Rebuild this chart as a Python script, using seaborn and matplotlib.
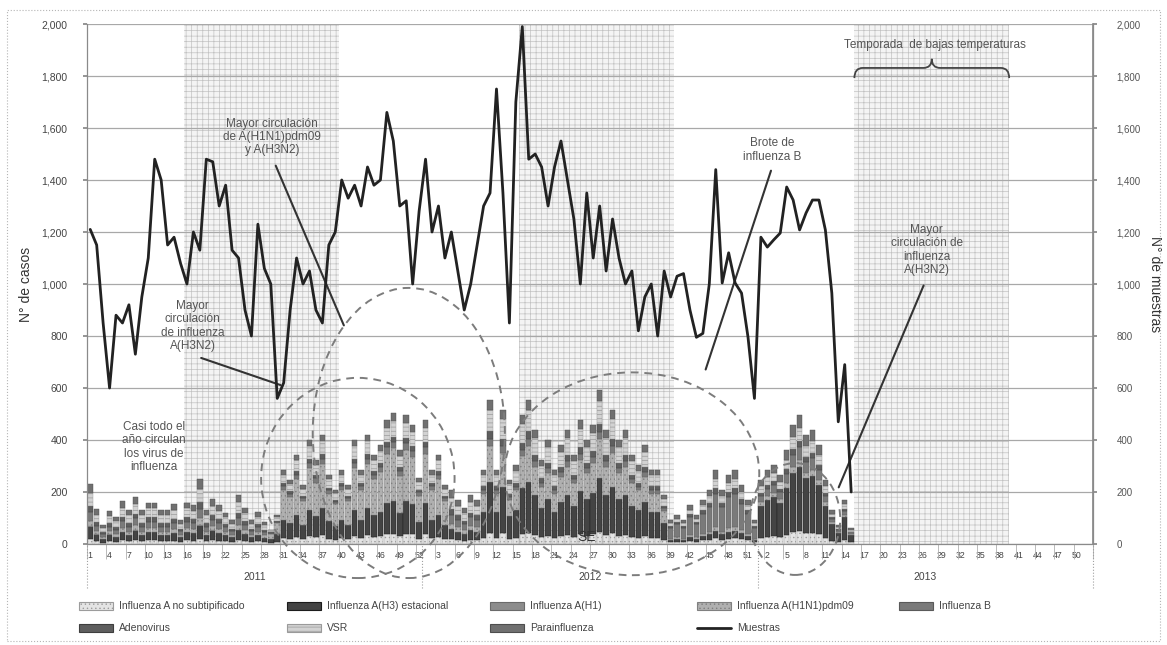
import numpy as np
import matplotlib
matplotlib.use("Agg")
import matplotlib.pyplot as plt
import matplotlib.transforms as mtransforms
from matplotlib.patches import Ellipse, PathPatch, Rectangle
from matplotlib.path import Path
from matplotlib.lines import Line2D
from matplotlib.ticker import FuncFormatter
import seaborn as sns

# ---------------------------------------------------------------- data
years = ["2011", "2012", "2013"]
weeks_per_year = 52

# epidemiological-week labels shown every third week
se_labels = [1, 4, 7, 10, 13, 16, 19, 22, 25, 28, 31, 34, 37, 40, 43, 46, 49, 52,
             3, 6, 9, 12, 15, 18, 21, 24, 27, 30, 33, 36, 39, 42, 45, 48, 51,
             2, 5, 8, 11, 14, 17, 20, 23, 26, 29, 32, 35, 38, 41, 44, 47, 50]

flu_a_nosub = [20, 10, 5, 10, 8, 15, 10, 15, 10, 15, 15, 10, 10, 12, 8, 15, 12, 20, 10, 15, 12, 10, 8, 15, 12, 8, 10, 8,
               4, 9, 23, 20, 27, 18, 32, 26, 34, 21, 17, 23, 18, 32, 23, 34, 27, 30, 38, 40, 29, 40, 37, 20, 38, 23, 27, 18,
               18, 15, 12, 16, 15,
               23, 44, 23, 41, 20, 24, 40, 44, 35, 26, 32, 23, 30, 35, 27, 38, 32, 37, 47, 35, 41, 32, 35, 27, 24, 30, 23, 23, 15,
               7, 9, 7, 12, 9, 14, 17, 23, 17, 21, 23, 18, 14, 7,
               25, 28, 30, 27, 36, 46, 50, 42, 44, 38, 25, 13, 7, 17, 6]
flu_h3 = [45, 25, 15, 25, 20, 30, 25, 35, 25, 30, 30, 25, 25, 30, 18, 30, 30, 50, 25, 35, 30, 25, 18, 38, 28, 18, 25, 17,
          14, 28, 71, 62, 86, 57, 100, 81, 105, 66, 52, 71, 57, 100, 71, 105, 86, 95, 119, 126, 90, 124, 115, 64, 119, 71, 86, 57,
          40, 33, 27, 36, 33,
          100, 194, 100, 180, 86, 106, 174, 194, 153, 113, 140, 100, 133, 153, 120, 167, 140, 160, 207, 153, 180, 140, 153, 120, 106, 133, 100, 100, 66,
          9, 11, 9, 15, 11, 17, 21, 28, 21, 27, 28, 23, 17, 9,
          123, 143, 152, 132, 181, 229, 248, 210, 219, 190, 123, 65, 37, 85, 30]
flu_h1 = [5, 3, 0, 2, 0, 3, 0, 4, 0, 2, 2, 0, 0, 2, 0, 2, 0, 4, 0, 2, 0, 0, 0, 2, 0, 0, 0, 0,
          0, 0, 0, 0, 0, 0, 0, 0, 0, 0, 0, 0, 0, 0, 0, 0, 0, 0, 0, 0, 0, 0, 0, 0, 0, 0, 0, 0,
          0, 0, 0, 0, 0,
          0, 0, 0, 0, 0, 0, 0, 0, 0, 0, 0, 0, 0, 0, 0, 0, 0, 0, 0, 0, 0, 0, 0, 0, 0, 0, 0, 0, 0,
          0, 0, 0, 0, 0, 0, 0, 0, 0, 0, 0, 0, 0, 0,
          0, 0, 0, 0, 0, 0, 0, 0, 0, 0, 0, 0, 0, 0, 0]
flu_pdm09 = [20, 12, 8, 12, 10, 15, 12, 18, 12, 15, 15, 12, 12, 15, 9, 15, 15, 25, 12, 17, 15, 12, 9, 18, 14, 9, 12, 8,
             22, 44, 114, 98, 137, 91, 160, 129, 168, 106, 83, 114, 91, 160, 114, 168, 137, 152, 191, 202, 144, 198, 183, 102, 191, 114, 137, 91,
             20, 17, 14, 18, 17,
             71, 139, 71, 129, 62, 76, 124, 139, 110, 81, 100, 71, 95, 110, 86, 119, 100, 115, 148, 110, 129, 100, 110, 86, 76, 95, 71, 71, 47,
             5, 6, 5, 8, 6, 8, 10, 14, 10, 13, 14, 11, 8, 5,
             12, 14, 15, 13, 18, 23, 25, 21, 22, 19, 12, 7, 4, 9, 3]
flu_b = [35, 20, 10, 18, 16, 25, 20, 27, 20, 24, 24, 20, 20, 23, 14, 24, 23, 37, 20, 25, 23, 18, 14, 28, 21, 14, 18, 13,
         3, 5, 14, 12, 17, 11, 20, 16, 21, 13, 10, 14, 11, 20, 14, 21, 17, 19, 24, 25, 18, 25, 23, 13, 24, 14, 17, 11,
         35, 28, 23, 32, 28,
         14, 28, 14, 26, 12, 15, 25, 28, 22, 16, 20, 14, 19, 22, 17, 24, 20, 23, 30, 22, 26, 20, 22, 17, 15, 19, 14, 14, 9,
         41, 50, 41, 68, 50, 77, 94, 128, 94, 119, 128, 102, 77, 41,
         25, 28, 30, 27, 36, 46, 50, 42, 44, 38, 25, 13, 7, 17, 6]
adenovirus = [22, 13, 7, 12, 10, 16, 13, 18, 13, 16, 16, 13, 13, 15, 9, 16, 15, 25, 13, 17, 15, 12, 9, 19, 14, 9, 12, 8,
              2, 4, 11, 10, 14, 9, 16, 13, 17, 11, 8, 11, 9, 16, 11, 17, 14, 15, 19, 20, 14, 20, 18, 10, 19, 11, 14, 9,
              20, 17, 14, 18, 17,
              14, 28, 14, 26, 12, 15, 25, 28, 22, 16, 20, 14, 19, 22, 17, 24, 20, 23, 30, 22, 26, 20, 22, 17, 15, 19, 14, 14, 9,
              7, 9, 7, 12, 9, 14, 17, 23, 17, 21, 23, 18, 14, 7,
              12, 14, 15, 13, 18, 23, 25, 21, 22, 19, 12, 7, 4, 8, 3]
vsr = [50, 30, 16, 28, 24, 35, 30, 38, 30, 35, 35, 30, 30, 33, 20, 35, 33, 52, 30, 37, 33, 26, 20, 40, 30, 20, 28, 19,
       7, 13, 34, 30, 41, 27, 48, 39, 50, 32, 25, 34, 27, 48, 34, 50, 41, 46, 57, 60, 43, 60, 55, 30, 57, 34, 41, 27,
       45, 37, 30, 40, 37,
       43, 83, 43, 77, 37, 46, 74, 83, 66, 48, 60, 43, 57, 66, 51, 72, 60, 69, 89, 66, 77, 60, 66, 51, 46, 57, 43, 43, 28,
       12, 13, 12, 17, 13, 20, 25, 35, 25, 32, 35, 28, 20, 12,
       25, 29, 31, 26, 36, 45, 49, 42, 44, 38, 25, 12, 7, 17, 6]
parainfluenza = [35, 20, 12, 18, 16, 25, 20, 26, 20, 22, 22, 20, 20, 22, 14, 22, 22, 37, 20, 24, 22, 17, 14, 30, 21, 14, 18, 12,
                 3, 7, 18, 14, 20, 14, 24, 19, 25, 16, 13, 18, 14, 24, 18, 25, 20, 23, 29, 31, 22, 29, 27, 15, 29, 18, 20, 14,
                 30, 23, 20, 28, 23,
                 20, 38, 20, 36, 17, 22, 34, 38, 30, 23, 28, 20, 27, 30, 24, 33, 28, 32, 41, 30, 36, 28, 30, 24, 22, 27, 20, 20, 14,
                 11, 12, 11, 18, 12, 20, 24, 34, 24, 32, 34, 27, 20, 11,
                 24, 29, 31, 27, 36, 46, 49, 42, 43, 38, 24, 13, 7, 17, 6]
muestras = [1210, 1150, 850, 600, 880, 850, 920, 730, 950, 1100,
            1480, 1400, 1150, 1180, 1080, 1000, 1200, 1130, 1480, 1470,
            1300, 1380, 1130, 1100, 900, 800, 1230, 1060, 1000, 560,
            620, 900, 1100, 1000, 1050, 900, 850, 1150, 1200, 1400,
            1330, 1380, 1300, 1450, 1380, 1400, 1660, 1550, 1300, 1320,
            1000, 1280, 1480, 1200, 1300, 1100, 1200, 1050, 900, 1000,
            1150, 1300, 1350, 1750, 1350, 850, 1700, 1990, 1480, 1500,
            1450, 1300, 1450, 1550, 1400, 1250, 1000, 1350, 1100, 1300,
            1050, 1250, 1100, 1000, 1050, 820, 950, 1000, 800, 1050,
            950, 1030, 1040, 900, 795, 810, 1000, 1440, 1004, 1120,
            1004, 965, 796, 560, 1180, 1142, 1170, 1196, 1373, 1323,
            1208, 1273, 1323, 1323, 1208, 965, 470, 690, 200]

# low-temperature season, weeks 16-39 of every year
cold_first_week, cold_last_week = 16, 39

series = [
    ("Influenza A no subtipificado", flu_a_nosub, "#e4e4e4", "#9c9c9c", "...."),
    ("Influenza A(H3) estacional", flu_h3, "#444444", "#1c1c1c", None),
    ("Influenza A(H1)", flu_h1, "#8c8c8c", "#6a6a6a", None),
    ("Influenza A(H1N1)pdm09", flu_pdm09, "#b0b0b0", "#808080", "...."),
    ("Influenza B", flu_b, "#7a7a7a", "#5a5a5a", None),
    ("Adenovirus", adenovirus, "#5e5e5e", "#3e3e3e", None),
    ("VSR", vsr, "#d2d2d2", "#9a9a9a", "----"),
    ("Parainfluenza", parainfluenza, "#707070", "#4e4e4e", None),
]
for _, vals, *_ in series:
    assert len(vals) == len(muestras)

# ---------------------------------------------------------------- style
sns.set_theme(style="white")
plt.rcParams["font.family"] = ["Liberation Sans", "DejaVu Sans"]
plt.rcParams["hatch.linewidth"] = 0.5

W, H = 1167, 645
fig = plt.figure(figsize=(W / 100, H / 100), dpi=100)
fig.patch.set_facecolor("white")
ax = fig.add_axes([87 / W, 1 - 544 / H, (1093 - 87) / W, (544 - 24) / H])
n_weeks = weeks_per_year * len(years)
x = np.arange(len(muestras))

ax.set_xlim(-0.5, n_weeks - 0.5)
ax.set_ylim(0, 2000)

# shaded cold seasons with a fine grid texture
for k in range(len(years)):
    ax.axvspan(k * weeks_per_year + cold_first_week - 1.5, k * weeks_per_year + cold_last_week - 0.5,
               facecolor="#f4f4f4", edgecolor="#c2c2c2", hatch="+++", lw=0, zorder=0)

# stacked bars of detected viruses
bottom = np.zeros(len(x))
for label, vals, face, edge, hatch in series:
    v = np.array(vals, dtype=float)
    ax.bar(x, v, bottom=bottom, width=0.85, color=face, edgecolor=edge, linewidth=0.3,
           hatch=hatch, zorder=2)
    bottom += v

ax.yaxis.grid(True, color="#a8a8a8", lw=0.9)
ax.set_axisbelow(True)
ax.set_yticks(np.arange(0, 2001, 200))
thousands = FuncFormatter(lambda v, p: f"{int(v):,}")
ax.yaxis.set_major_formatter(thousands)
ax.tick_params(axis="y", labelsize=7.5, labelcolor="#444", length=3, color="#888", pad=11, left=True)
ax.set_ylabel("N° de casos", fontsize=10, color="#333", labelpad=6)

ax.spines["top"].set_visible(False)
for s in ["left", "bottom", "right"]:
    ax.spines[s].set_color("#8a8a8a")
    ax.spines[s].set_linewidth(0.9)

ax.set_xticks(np.arange(0, n_weeks, 3))
ax.set_xticklabels([str(s) for s in se_labels], fontsize=6.3, color="#444")
ax.set_xticks(np.arange(-0.5, n_weeks, 3), minor=True)
ax.tick_params(axis="x", which="major", length=0, pad=5, bottom=True)
ax.tick_params(axis="x", which="minor", length=11, width=0.6, color="#b0b0b0", bottom=True)

trans = mtransforms.blended_transform_factory(ax.transData, ax.transAxes)
edges = [k * weeks_per_year - 0.5 for k in range(len(years) + 1)]
ax.vlines(edges, -0.085, 0, transform=trans, colors="#a0a0a0", lw=0.8, linestyles=":", clip_on=False)
for k, yr in enumerate(years):
    ax.text(k * weeks_per_year + weeks_per_year / 2 - 0.5, -0.063, yr, transform=trans,
            ha="center", va="center", fontsize=7.5, color="#444")
ax.text(77, 0.013, "SE", transform=trans, ha="center", va="center", fontsize=10, color="#333")

# samples on the secondary axis
ax2 = ax.twinx()
sns.lineplot(x=x, y=muestras, ax=ax2, color="#222222", lw=2.0, zorder=5)
ax2.set_ylim(0, 2000)
ax2.set_yticks(np.arange(0, 2001, 200))
ax2.yaxis.set_major_formatter(thousands)
ax2.tick_params(axis="y", labelsize=7, labelcolor="#555", length=3, color="#888", pad=14, right=True)
ax2.set_ylabel("N° de muestras", fontsize=10, color="#333", rotation=270, va="center", ha="center")
ax2.yaxis.set_label_coords(1.062, 0.5)
for s in ["top", "left", "bottom"]:
    ax2.spines[s].set_visible(False)
ax2.spines["right"].set_color("#8a8a8a")
ax2.grid(False)

# circulation periods
ell_style = dict(fill=False, edgecolor="#7c7c7c", lw=1.4, ls=(0, (4, 3)), clip_on=False, zorder=6)
for cx, cy, w, h in [(41.5, 254, 30, 770), (49.4, 427, 29.8, 1116), (84.0, 270, 39.5, 780), (109.3, 96, 14, 430)]:
    ax2.add_patch(Ellipse((cx, cy), w, h, **ell_style))

note = dict(ha="center", va="center", fontsize=8.5, color="#555", linespacing=1.15, zorder=7)
arrow = dict(arrowstyle="-", color="#333", lw=1.5)
ax2.text(28.2, 1565, "Mayor circulación\nde A(H1N1)pdm09\ny A(H3N2)", **note)
ax2.annotate("", xy=(39.5, 831), xytext=(28.6, 1465), arrowprops=arrow)
ax2.text(15.9, 838, "Mayor\ncirculación\nde influenza\nA(H3N2)", **note)
ax2.annotate("", xy=(29.9, 608), xytext=(16.8, 719), arrowprops=arrow)
ax2.text(9.9, 373, "Casi todo el\naño circulan\nlos virus de\ninfluenza", **note)
ax2.text(105.7, 1515, "Brote de\ninfluenza B", **note)
ax2.annotate("", xy=(95.3, 661), xytext=(105.7, 1446), arrowprops=arrow)
ax2.text(129.7, 1131, "Mayor\ncirculación de\ninfluenza\nA(H3N2)", **note)
ax2.annotate("", xy=(115.9, 208), xytext=(129.4, 1004), arrowprops=arrow)
ax2.text(131, 1919, "Temporada  de bajas temperaturas", **note)

# curly brace over the cold season
b0, b1 = 2 * weeks_per_year + cold_first_week - 1.5, 2 * weeks_per_year + cold_last_week - 0.5
bm, y_end, y_bar, y_tip, dx = (b0 + b1) / 2, 1792, 1831, 1866, 1.3
verts = [(b0, y_end), (b0, y_bar), (b0 + dx, y_bar), (bm - dx, y_bar), (bm, y_bar), (bm, y_tip),
         (bm, y_bar), (bm + dx, y_bar), (b1 - dx, y_bar), (b1, y_bar), (b1, y_end)]
codes = [Path.MOVETO, Path.CURVE3, Path.CURVE3, Path.LINETO, Path.CURVE3, Path.CURVE3,
         Path.CURVE3, Path.CURVE3, Path.LINETO, Path.CURVE3, Path.CURVE3]
ax2.add_patch(PathPatch(Path(verts, codes), fill=False, edgecolor="#444", lw=1.3, zorder=7))

# legend laid out in two rows
leg_cols = [79, 287, 490, 697, 899]
leg_rows = [606, 628]
entries = [(0, 0, 0), (1, 0, 1), (2, 0, 2), (3, 0, 3), (4, 0, 4), (5, 1, 0), (6, 1, 1), (7, 1, 2)]
for idx, row, col in entries:
    label, _, face, edge, hatch = series[idx]
    x0, y0 = leg_cols[col], leg_rows[row]
    fig.patches.append(Rectangle((x0 / W, 1 - (y0 + 4) / H), 34 / W, 8 / H, transform=fig.transFigure,
                                 facecolor=face, edgecolor=edge, hatch=hatch, lw=0.8))
    fig.text((x0 + 40) / W, 1 - y0 / H, label, fontsize=7.5, color="#444", va="center")
x0, y0 = leg_cols[3], leg_rows[1]
fig.lines.append(Line2D([x0 / W, (x0 + 34) / W], [1 - y0 / H] * 2, transform=fig.transFigure,
                        color="#222", lw=2))
fig.text((x0 + 40) / W, 1 - y0 / H, "Muestras", fontsize=7.5, color="#444", va="center")

# outer frame
fig.patches.append(Rectangle((7 / W, 1 - 641 / H), (1160 - 7) / W, (641 - 10) / H, transform=fig.transFigure,
                             fill=False, edgecolor="#b5b5b5", lw=0.8, ls=":"))

fig.savefig("out.png", dpi=100)
